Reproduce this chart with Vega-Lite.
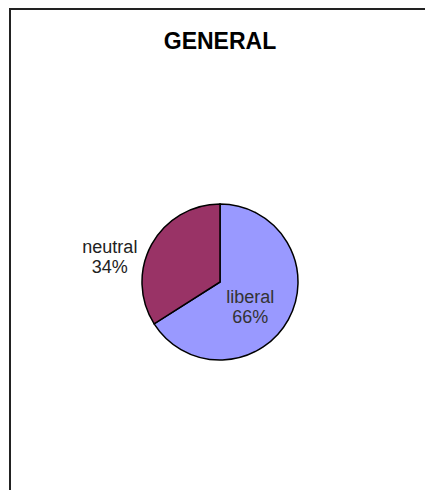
{
  "$schema": "https://vega.github.io/schema/vega-lite/v6.json",
  "autosize": "none",
  "width": 420,
  "height": 546,
  "padding": {"left": 10, "top": 9, "right": 0, "bottom": 0},
  "background": "white",
  "title": {
    "text": "GENERAL",
    "font": "Liberation Sans",
    "fontSize": 23,
    "fontWeight": "bold",
    "color": "black",
    "anchor": "middle",
    "dy": 50
  },
  "config": {
    "view": {"stroke": null},
    "text": {"font": "Liberation Sans"}
  },
  "data": {
    "values": [
      {"category": "liberal", "value": 66, "label": "liberal\n66%"},
      {"category": "neutral", "value": 34, "label": "neutral\n34%"}
    ]
  },
  "encoding": {
    "theta": {"field": "value", "type": "quantitative", "stack": true},
    "order": {"field": "category", "type": "nominal", "sort": "ascending"}
  },
  "layer": [
    {
      "mark": {"type": "rect", "fill": null, "stroke": "#222222", "strokeWidth": 2},
      "encoding": {"theta": null, "order": null}
    },
    {
      "mark": {"type": "arc", "outerRadius": 78, "stroke": "black", "strokeWidth": 1.5},
      "encoding": {
        "color": {
          "field": "category",
          "type": "nominal",
          "scale": {"domain": ["liberal", "neutral"], "range": ["#9999FF", "#993366"]},
          "legend": null
        }
      }
    },
    {
      "mark": {"type": "text", "radius": 38, "fontSize": 18, "lineBreak": "\n", "align": "center", "baseline": "middle", "color": "#333333", "dx": -3, "dy": -2},
      "encoding": {"text": {"condition": {"test": "datum.category === 'liberal'", "field": "label"}, "value": ""}}
    },
    {
      "mark": {"type": "text", "radius": 112, "fontSize": 18, "lineBreak": "\n", "align": "center", "baseline": "middle", "color": "#222222", "dx": -12, "dy": 20},
      "encoding": {"text": {"condition": {"test": "datum.category === 'neutral'", "field": "label"}, "value": ""}}
    }
  ]
}
